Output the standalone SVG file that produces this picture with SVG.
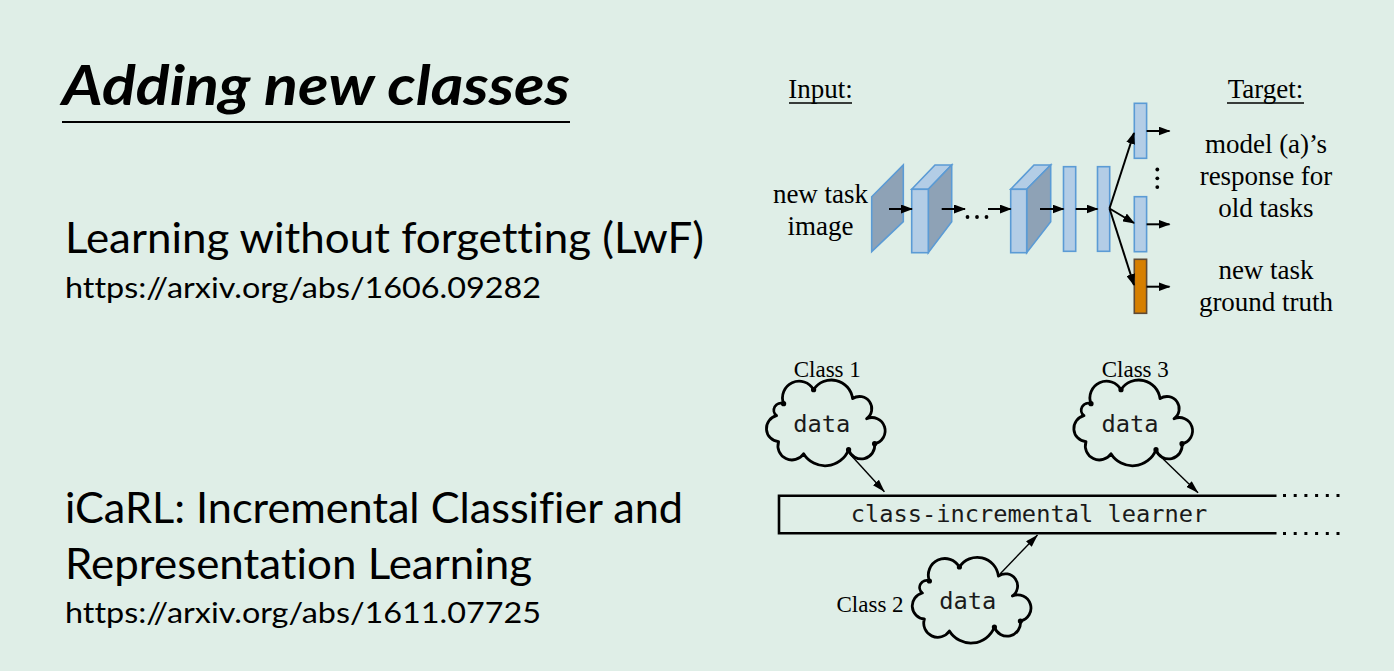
<svg xmlns="http://www.w3.org/2000/svg" xmlns:xlink="http://www.w3.org/1999/xlink" width="1394" height="671" viewBox="0 0 1394 671">
<style>
.bg{fill:#dfeee7}
.side{font-family:Lato,"Open Sans","Liberation Sans",sans-serif;fill:#000;font-variant-ligatures:none}
.serif{font-family:"Liberation Serif","Times New Roman",serif;font-size:27px;fill:#000}
.cls{font-family:"Liberation Serif","Times New Roman",serif;font-size:23px;fill:#000}
.mono{font-family:"DejaVu Sans Mono","Liberation Mono",monospace;font-size:23.7px;fill:#1a1a1a}
.lb{fill:#b3cde6;stroke:#5b9bd5;stroke-width:1.6}
.dk{fill:#8ea2b6;stroke:#5b9bd5;stroke-width:1.6}
.or{fill:#d67f00;stroke:#5f4a35;stroke-width:1.6}
.a1{stroke:#000;stroke-width:2;fill:none;marker-end:url(#ah)}
.a2{stroke:#000;stroke-width:1.4;fill:none;marker-end:url(#ah2)}
.cloud{fill:none;stroke:#000;stroke-width:2.8;stroke-linejoin:round}
</style>
<defs>
<marker id="ah" markerWidth="12" markerHeight="9" refX="11" refY="4.5" orient="auto" markerUnits="userSpaceOnUse"><path d="M0,0 L12,4.5 L0,9 z" fill="#000"/></marker>
<marker id="ah2" markerWidth="13" markerHeight="8" refX="12.5" refY="4" orient="auto" markerUnits="userSpaceOnUse"><path d="M0,0 L13,4 L0,8 z" fill="#000"/></marker>
<g id="cloudShape">
<path class="cloud" d="M -43,-18 A 16.6 16.6 0 0 1 -13,-32 A 21.3 21.3 0 0 1 26,-23 A 12.2 12.2 0 0 1 40,-3 A 13.2 13.2 0 1 1 48,22 A 13.4 13.4 0 0 1 22,28 A 25.2 25.2 0 0 1 -23,32 A 14 14 0 0 1 -48,20 A 13.2 13.2 0 0 1 -50,-6 A 7 7 0 0 1 -43,-18 Z"/>
<circle cx="-43" cy="-18" r="2.6"/><circle cx="-13" cy="-32" r="2.6"/><circle cx="48" cy="22" r="2.6"/><circle cx="22" cy="28" r="2.6"/>
</g>
</defs>
<rect class="bg" x="0" y="0" width="1394" height="671"/>

<g id="title">
<text class="side" x="62" y="105" font-size="56" font-weight="bold" font-style="italic" textLength="508" lengthAdjust="spacingAndGlyphs">Adding new classes</text>
<line x1="62" y1="122" x2="570" y2="122" stroke="#000" stroke-width="2"/>
</g>
<g id="lwf-text">
<text class="side" x="65" y="253" font-size="42" textLength="639" lengthAdjust="spacingAndGlyphs">Learning without forgetting (LwF)</text>
<text class="side" x="65" y="298" font-size="29.5" textLength="476" lengthAdjust="spacingAndGlyphs">https://arxiv.org/abs/1606.09282</text>
</g>
<g id="icarl-text">
<text class="side" x="65" y="523" font-size="42" textLength="618" lengthAdjust="spacingAndGlyphs">iCaRL: Incremental Classifier and</text>
<text class="side" x="65" y="579" font-size="42" textLength="467" lengthAdjust="spacingAndGlyphs">Representation Learning</text>
<text class="side" x="65" y="623" font-size="29.5" textLength="476" lengthAdjust="spacingAndGlyphs">https://arxiv.org/abs/1611.07725</text>
</g>

<!-- LwF diagram -->
<g id="lwf-input-label">
<text class="serif" x="820.5" y="98.3" text-anchor="middle">Input:</text>
<line x1="789" y1="103" x2="852" y2="103" stroke="#000" stroke-width="1.3"/>
<text class="serif" x="820.5" y="203.3" text-anchor="middle">new task</text>
<text class="serif" x="820.5" y="235" text-anchor="middle">image</text>
</g>
<g id="lwf-target-label">
<text class="serif" x="1265.5" y="98.3" text-anchor="middle">Target:</text>
<line x1="1227" y1="103" x2="1304" y2="103" stroke="#000" stroke-width="1.3"/>
<text class="serif" x="1266" y="152.7" text-anchor="middle">model (a)’s</text>
<text class="serif" x="1266" y="184.5" text-anchor="middle">response for</text>
<text class="serif" x="1266" y="216.7" text-anchor="middle">old tasks</text>
<text class="serif" x="1266" y="279.3" text-anchor="middle">new task</text>
<text class="serif" x="1266" y="311" text-anchor="middle">ground truth</text>
</g>
<g id="input-image">
<polygon class="dk" points="871.7,196.7 903.3,165 903.3,221.7 871.7,251.7"/>
</g>
<g id="conv1">
<polygon class="lb" points="911.7,189.3 935,165 951.7,165 928.3,189.3"/>
<polygon class="dk" points="928.3,189.3 951.7,165 951.7,221.7 928.3,252.7"/>
<rect class="lb" x="911.7" y="189.3" width="16.6" height="63.4"/>
</g>
<g id="conv-dots">
<circle cx="967.5" cy="217" r="1.9"/><circle cx="977" cy="217" r="1.9"/><circle cx="986.5" cy="217" r="1.9"/>
</g>
<g id="conv2">
<polygon class="lb" points="1010.7,189.3 1034,165 1050.7,165 1026.7,189.3"/>
<polygon class="dk" points="1026.7,189.3 1050.7,165 1050.7,221.7 1026.7,252.7"/>
<rect class="lb" x="1010.7" y="189.3" width="16" height="63.4"/>
</g>
<g id="fc1"><rect class="lb" x="1063.5" y="166.7" width="12.2" height="84.6"/></g>
<g id="fc2"><rect class="lb" x="1097.5" y="166.7" width="12.2" height="84.6"/></g>
<g id="out-old1"><rect class="lb" x="1134.3" y="103.3" width="12.3" height="55"/></g>
<g id="out-dots"><circle cx="1157.3" cy="169.5" r="1.9"/><circle cx="1157.3" cy="178.3" r="1.9"/><circle cx="1157.3" cy="187.1" r="1.9"/></g>
<g id="out-old2"><rect class="lb" x="1134.3" y="196.7" width="12.3" height="55"/></g>
<g id="out-new"><rect class="or" x="1134.3" y="259.3" width="12.3" height="54"/></g>

<!-- iCaRL diagram -->
<g id="learner">
<path d="M1276.5,495.7 H779 V533.3 H1276.5" fill="none" stroke="#000" stroke-width="2.6"/>
<text class="mono" x="1029" y="522.3" text-anchor="middle">class-incremental learner</text>
<g fill="#000">
<rect x="1283" y="494" width="3" height="3"/><rect x="1293.7" y="494" width="3" height="3"/><rect x="1304.4" y="494" width="3" height="3"/><rect x="1315.1" y="494" width="3" height="3"/><rect x="1325.8" y="494" width="3" height="3"/><rect x="1336.5" y="494" width="3" height="3"/>
<rect x="1283" y="532" width="3" height="3"/><rect x="1293.7" y="532" width="3" height="3"/><rect x="1304.4" y="532" width="3" height="3"/><rect x="1315.1" y="532" width="3" height="3"/><rect x="1325.8" y="532" width="3" height="3"/><rect x="1336.5" y="532" width="3" height="3"/>
</g>
</g>
<g id="class1">
<text class="cls" x="793.7" y="376.7">Class 1</text>
<use xlink:href="#cloudShape" href="#cloudShape" transform="translate(826.6,421.7)"/>
<text class="mono" x="821.8" y="431.7" text-anchor="middle">data</text>
</g>
<g id="class3">
<text class="cls" x="1101.7" y="376.7">Class 3</text>
<use xlink:href="#cloudShape" href="#cloudShape" transform="translate(1134,421.7)"/>
<text class="mono" x="1130" y="431.7" text-anchor="middle">data</text>
</g>
<g id="class2">
<text class="cls" x="836.5" y="611.7">Class 2</text>
<use xlink:href="#cloudShape" href="#cloudShape" transform="translate(972.4,599)"/>
<text class="mono" x="967.7" y="609.3" text-anchor="middle">data</text>
</g>

<g id="connectors">
<line class="a1" x1="889" y1="209" x2="912" y2="209"/>
<line class="a1" x1="941.7" y1="209" x2="965" y2="209"/>
<line class="a1" x1="988" y1="209" x2="1010.7" y2="209"/>
<line class="a1" x1="1040" y1="209" x2="1063.5" y2="209"/>
<line class="a1" x1="1075.7" y1="209" x2="1097.5" y2="209"/>
<line class="a1" x1="1109.5" y1="208.5" x2="1134" y2="133"/>
<line class="a1" x1="1109.5" y1="208.5" x2="1134" y2="223"/>
<line class="a1" x1="1109.5" y1="208.5" x2="1134" y2="285"/>
<line class="a1" x1="1146.6" y1="131" x2="1169.5" y2="131"/>
<line class="a1" x1="1146.6" y1="224.3" x2="1169.5" y2="224.3"/>
<line class="a1" x1="1146.6" y1="286.7" x2="1169.5" y2="286.7"/>
<line class="a2" x1="849" y1="453" x2="884.4" y2="491.7"/>
<line class="a2" x1="1157" y1="453" x2="1198" y2="492.7"/>
<line class="a2" x1="1000" y1="574" x2="1037.5" y2="535"/>
</g>
</svg>
